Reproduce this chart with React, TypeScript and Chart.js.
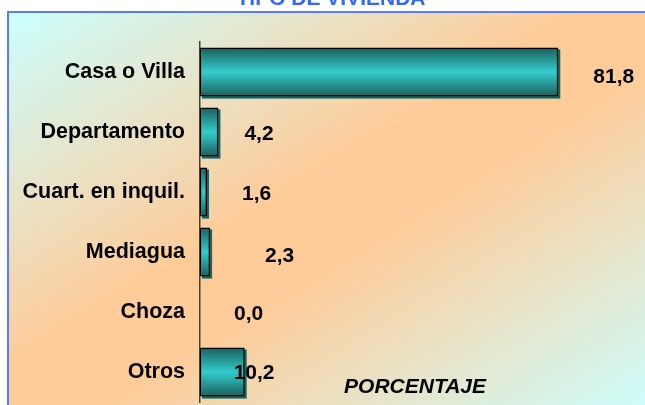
import React, { useEffect, useRef } from "react";
import { Chart, registerables } from "chart.js";

Chart.register(...registerables);

const CATEGORIES = ["Casa o Villa", "Departamento", "Cuart. en inquil.", "Mediagua", "Choza", "Otros"];
const PERCENTAGES = [81.8, 4.2, 1.6, 2.3, 0.0, 10.2];
const TITLE = "TIPO DE VIVIENDA";
const AXIS_TITLE = "PORCENTAJE";
const X_MIN = 0;
const X_MAX = 100;

// label nudges (px) relative to the default spot just right of each bar end
const LABEL_NUDGE: [number, number][] = [
  [1, 5],
  [-8, 2],
  [1, 2],
  [21, 4],
  [0, 2],
  [-45, 1],
];

const FONT = "'Liberation Sans', Arial, sans-serif";

const decorPlugin = {
  id: "decor",
  beforeDraw(chart: any) {
    const { ctx, width, height } = chart;
    ctx.save();
    ctx.fillStyle = "#ffffff";
    ctx.fillRect(0, 0, width, height);
    const bx = 8, by = 12;
    const bw = width + 10 - bx, bh = height + 10 - by;
    const cx = bx + bw / 2, cy = by + bh / 2;
    const nx = 1 / bw, ny = 1 / bh;
    const nl = Math.sqrt(nx * nx + ny * ny);
    const d = 1 / nl;
    const ux = nx / nl, uy = ny / nl;
    const g = ctx.createLinearGradient(cx - ux * d, cy - uy * d, cx + ux * d, cy + uy * d);
    g.addColorStop(0, "#CCFFFF");
    g.addColorStop(0.44, "#FFCC99");
    g.addColorStop(0.56, "#FFCC99");
    g.addColorStop(1, "#CCFFFF");
    ctx.fillStyle = g;
    ctx.fillRect(bx, by, bw, bh);
    ctx.strokeStyle = "#5b7cf2";
    ctx.lineWidth = 2;
    ctx.beginPath();
    ctx.moveTo(bx, height + 5);
    ctx.lineTo(bx, by);
    ctx.lineTo(width + 5, by);
    ctx.stroke();
    ctx.fillStyle = "#3366FF";
    ctx.font = `bold 21px ${FONT}`;
    ctx.textAlign = "center";
    ctx.textBaseline = "alphabetic";
    ctx.fillText(TITLE, 331, 5);
    ctx.restore();
  },
  beforeDatasetsDraw(chart: any) {
    const { ctx } = chart;
    const meta = chart.getDatasetMeta(0);
    ctx.save();
    ctx.fillStyle = "#1b6464";
    meta.data.forEach((el: any, i: number) => {
      if (!PERCENTAGES[i]) return;
      const left = Math.min(el.x, el.base);
      const w = Math.abs(el.x - el.base);
      ctx.fillRect(left + 2, el.y - el.height / 2 + 2, w, el.height);
    });
    ctx.restore();
  },
  afterDatasetsDraw(chart: any) {
    const { ctx, chartArea } = chart;
    const meta = chart.getDatasetMeta(0);
    ctx.save();
    ctx.fillStyle = "#000";
    ctx.font = `bold 21px ${FONT}`;
    ctx.textAlign = "left";
    ctx.textBaseline = "middle";
    meta.data.forEach((el: any, i: number) => {
      const [dx, dy] = LABEL_NUDGE[i];
      const txt = PERCENTAGES[i].toFixed(1).replace(".", ",");
      ctx.fillText(txt, el.x + 34 + dx, el.y + dy);
    });
    ctx.font = `italic bold 21px ${FONT}`;
    ctx.textAlign = "center";
    ctx.textBaseline = "alphabetic";
    ctx.fillText(AXIS_TITLE, chartArea.left + (chartArea.right - chartArea.left) * 0.491, 393);
    ctx.restore();
  },
};

export default function App() {
  const ref = useRef<HTMLCanvasElement>(null);
  useEffect(() => {
    if (!ref.current) return;
    const chart = new Chart(ref.current, {
      type: "bar",
      data: {
        labels: CATEGORIES,
        datasets: [
          {
            data: PERCENTAGES,
            backgroundColor: (c: any) => {
              const chart = c.chart;
              const y = chart.scales && chart.scales.y;
              if (!y || c.dataIndex == null) return "#2bb";
              const center = y.getPixelForValue(c.dataIndex);
              const h = ((y.bottom - y.top) / CATEGORIES.length) * 0.82;
              if (!isFinite(center) || !isFinite(h) || h <= 0) return "#2bb";
              const g = chart.ctx.createLinearGradient(0, center - h / 2, 0, center + h / 2);
              g.addColorStop(0, "#1a5e5b");
              g.addColorStop(0.22, "#258f8c");
              g.addColorStop(0.5, "#33cccc");
              g.addColorStop(0.78, "#258f8c");
              g.addColorStop(1, "#1a5e5b");
              return g;
            },
            borderColor: "#000000",
            borderWidth: 1.5,
            borderSkipped: false,
            categoryPercentage: 1,
            barPercentage: 0.82,
          },
        ],
      },
      options: {
        indexAxis: "y",
        responsive: false,
        animation: false,
        events: [],
        layout: { padding: { left: 0, right: 7, top: 42, bottom: 3 } },
        plugins: {
          legend: { display: false },
          tooltip: { enabled: false },
          title: { display: false },
        },
        scales: {
          x: { display: false, min: X_MIN, max: X_MAX },
          y: {
            afterFit: (s: any) => {
              s.width = 200;
              s.paddingTop = 0;
              s.paddingBottom = 0;
            },
            grid: { display: false, drawTicks: false },
            border: { display: true, color: "#404040", width: 1.5 },
            ticks: {
              color: "#000",
              padding: 15,
              font: { family: FONT, size: 21.5, weight: "bold" },
            },
          },
        },
      },
      plugins: [decorPlugin],
    } as any);
    return () => chart.destroy();
  }, []);
  return (
    <div style={{ position: "absolute", left: 0, top: 0, width: 645, height: 405 }}>
      <canvas ref={ref} width={645} height={405} />
    </div>
  );
}
